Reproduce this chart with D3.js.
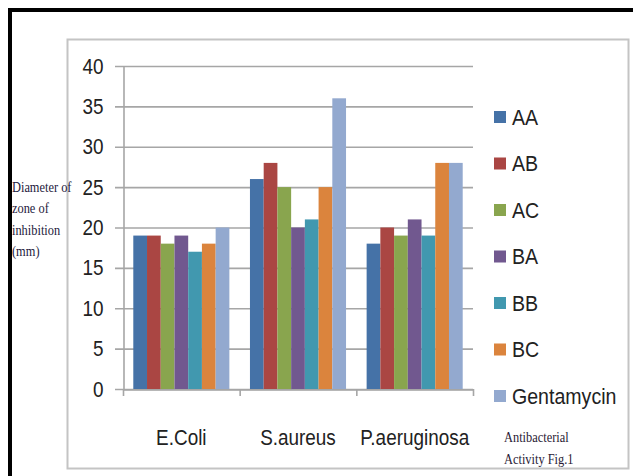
<!DOCTYPE html>
<html><head><meta charset="utf-8">
<script src="https://cdn.jsdelivr.net/npm/d3@7"></script>
<style>html,body{margin:0;padding:0;background:#fff;}svg{display:block;}</style>
</head><body>
<script>
const categories = ["E.Coli", "S.aureus", "P.aeruginosa"];
const seriesNames = ["AA", "AB", "AC", "BA", "BB", "BC", "Gentamycin"];
const AA = [19, 26, 18];
const AB = [19, 28, 20];
const AC = [18, 25, 19];
const BA = [19, 20, 21];
const BB = [17, 21, 19];
const BC = [18, 25, 28];
const Gentamycin = [20, 36, 28];
const seriesValues = [AA, AB, AC, BA, BB, BC, Gentamycin];
const colors = ["#4572A7", "#AA4643", "#89A54E", "#71588F", "#4198AF", "#DB843D", "#93A9CF"];
const yTicks = [0, 5, 10, 15, 20, 25, 30, 35, 40];
const yTitle = ["Diameter of", "zone of", "inhibition", "(mm)"];
const caption = ["Antibacterial", "Activity Fig.1"];

const W = 633, H = 476;
const svg = d3.select("body").append("svg").attr("width", W).attr("height", H);

function condense(sel, sx) {
  sel.each(function () {
    const t = d3.select(this);
    const x = +t.attr("x") || 0;
    t.attr("transform", `translate(${x},0) scale(${sx},1) translate(${-x},0)`);
  });
}

// outer black border
svg.append("rect").attr("x", 10).attr("y", 10).attr("width", W + 20).attr("height", H + 20)
  .attr("fill", "none").attr("stroke", "#000").attr("stroke-width", 4);
// inner chart frame
svg.append("rect").attr("x", 67.5).attr("y", 39.5).attr("width", 561).attr("height", 429)
  .attr("fill", "#fff").attr("stroke", "#c4c4c4").attr("stroke-width", 2);

const plotL = 123, plotR = 473, plotT = 66, plotB = 389;
const x = d3.scaleBand().domain(categories).range([plotL, plotR]).paddingInner(0).paddingOuter(0);
const y = d3.scaleLinear().domain([0, 40]).range([plotB, plotT]);
const groupW = x.bandwidth() * 7 / 8.5;
const xs = d3.scaleBand().domain(seriesNames).range([0, groupW]).padding(0);

const font = "'Liberation Sans','Arial',sans-serif";
const serif = "'Liberation Serif','Times New Roman',serif";
const SX = 0.86;

// gridlines
svg.append("g").selectAll("line").data(yTicks).join("line")
  .attr("x1", plotL - 8).attr("x2", plotR)
  .attr("y1", d => y(d) + 0.5).attr("y2", d => y(d) + 0.5)
  .attr("stroke", "#a6a6a6").attr("stroke-width", 1.6);

// y axis
const yAxis = d3.axisLeft(y).tickValues(yTicks).tickSize(0).tickPadding(20);
const yg = svg.append("g").attr("transform", `translate(${plotL + 0.5},0)`).call(yAxis);
yg.select(".domain").attr("stroke", "#a6a6a6").attr("stroke-width", 1.6);
yg.selectAll("text").attr("font-family", font).attr("font-size", 22).attr("fill", "#222");
condense(yg.selectAll("text"), SX);

// bars
categories.forEach((c, ci) => {
  const g = svg.append("g").attr("transform", `translate(${x(c) + (x.bandwidth() - groupW) / 2},0)`);
  g.selectAll("rect").data(seriesNames).join("rect")
    .attr("x", d => xs(d))
    .attr("width", xs.bandwidth())
    .attr("y", (d, i) => y(seriesValues[i][ci]))
    .attr("height", (d, i) => plotB - y(seriesValues[i][ci]))
    .attr("fill", (d, i) => colors[i]);
});

// x axis
const xAxis = d3.axisBottom(x).tickSize(0).tickPadding(40);
const xg = svg.append("g").attr("transform", `translate(0,${plotB + 0.5})`).call(xAxis);
xg.select(".domain").attr("stroke", "#a6a6a6").attr("stroke-width", 1.6);
xg.selectAll("text").attr("font-family", font).attr("font-size", 22).attr("fill", "#222");
condense(xg.selectAll("text"), SX);
// category separator ticks
const sepX = categories.map(c => x(c)).concat([x(categories[categories.length - 1]) + x.bandwidth()]);
svg.append("g").selectAll("line").data(sepX).join("line")
  .attr("x1", d => d + 0.5).attr("x2", d => d + 0.5)
  .attr("y1", plotB).attr("y2", plotB + 7)
  .attr("stroke", "#a6a6a6").attr("stroke-width", 1.6);

// legend
const leg = svg.append("g");
seriesNames.forEach((s, i) => {
  const cy = 117 + i * 46.5;
  leg.append("rect").attr("x", 494).attr("y", cy - 6).attr("width", 12).attr("height", 12).attr("fill", colors[i]);
  const t = leg.append("text").attr("x", 512).attr("y", cy).attr("dy", "0.36em")
    .attr("font-family", font).attr("font-size", 22).attr("fill", "#222").text(s);
  condense(t, 0.89);
});

// y title
const yt = svg.append("g").selectAll("text").data(yTitle).join("text")
  .attr("x", 12).attr("y", (d, i) => 192 + i * 21.5)
  .attr("font-family", serif).attr("font-size", 15.5)
  .attr("fill", "#1e1a3c").text(d => d);
condense(yt, 0.8);

// caption
const cp = svg.append("g").selectAll("text").data(caption).join("text")
  .attr("x", 504).attr("y", (d, i) => 442 + i * 22)
  .attr("font-family", serif).attr("font-size", 15.5)
  .attr("fill", "#2a1a35").text(d => d);
condense(cp, 0.8);
</script>
</body></html>
